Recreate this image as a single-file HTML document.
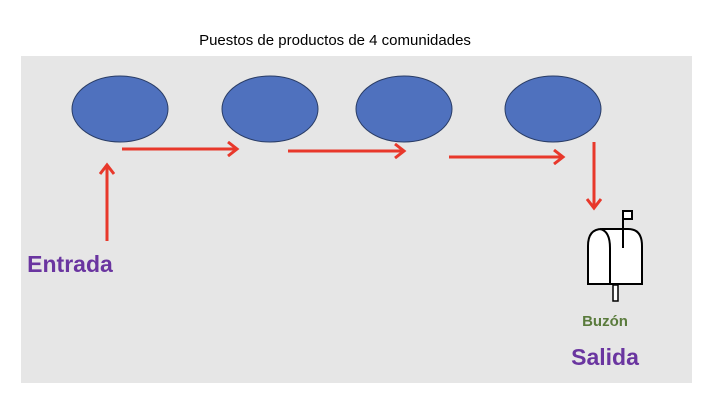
<!DOCTYPE html>
<html><head><style>
body{margin:0;width:716px;height:414px;background:#fff;overflow:hidden;font-family:"Liberation Sans",sans-serif}
</style></head><body>
<svg width="716" height="414" xmlns="http://www.w3.org/2000/svg">
<defs><marker id="a" markerWidth="14" markerHeight="16" refX="11" refY="8" orient="auto" markerUnits="userSpaceOnUse"><path d="M2,1 L11,8 L2,15" fill="none" stroke="#e8382b" stroke-width="3"/></marker></defs>
<text x="335" y="45" font-size="15" text-anchor="middle" fill="#000">Puestos de productos de 4 comunidades</text>
<rect x="21" y="56" width="671" height="327" fill="#e6e6e6"/>
<g fill="#4f71be" stroke="#2a3d66" stroke-width="1">
<ellipse cx="120" cy="109" rx="48" ry="33"/>
<ellipse cx="270" cy="109" rx="48" ry="33"/>
<ellipse cx="404" cy="109" rx="48" ry="33"/>
<ellipse cx="553" cy="109" rx="48" ry="33"/>
</g>
<g stroke="#e8382b" stroke-width="3" fill="none" marker-end="url(#a)">
<line x1="122" y1="149" x2="237" y2="149"/>
<line x1="288" y1="151" x2="404" y2="151"/>
<line x1="449" y1="157" x2="563" y2="157"/>
<line x1="594" y1="142" x2="594" y2="208"/>
<line x1="107" y1="241" x2="107" y2="165"/>
</g>
<g fill="none" stroke="#000" stroke-width="2">
<path d="M588,284 L588,246 Q588,229 602,229 L628,229 Q642,229 642,246 L642,284 Z" fill="#fff"/>
<path d="M600,229 Q610,231 610,248 L610,284"/>
<line x1="623" y1="212" x2="623" y2="248"/>
<rect x="623" y="211" width="9" height="8" fill="#fff"/>
<rect x="613" y="285" width="5" height="16" fill="#fff" stroke-width="1.5"/>
</g>
<text x="605" y="326" font-size="15" font-weight="bold" fill="#5a7b3c" text-anchor="middle">Buzón</text>
<text x="605" y="365" font-size="23" font-weight="bold" fill="#6a35a0" text-anchor="middle">Salida</text>
<text x="70" y="272" font-size="23" font-weight="bold" fill="#6a35a0" text-anchor="middle">Entrada</text>
</svg>
</body></html>
